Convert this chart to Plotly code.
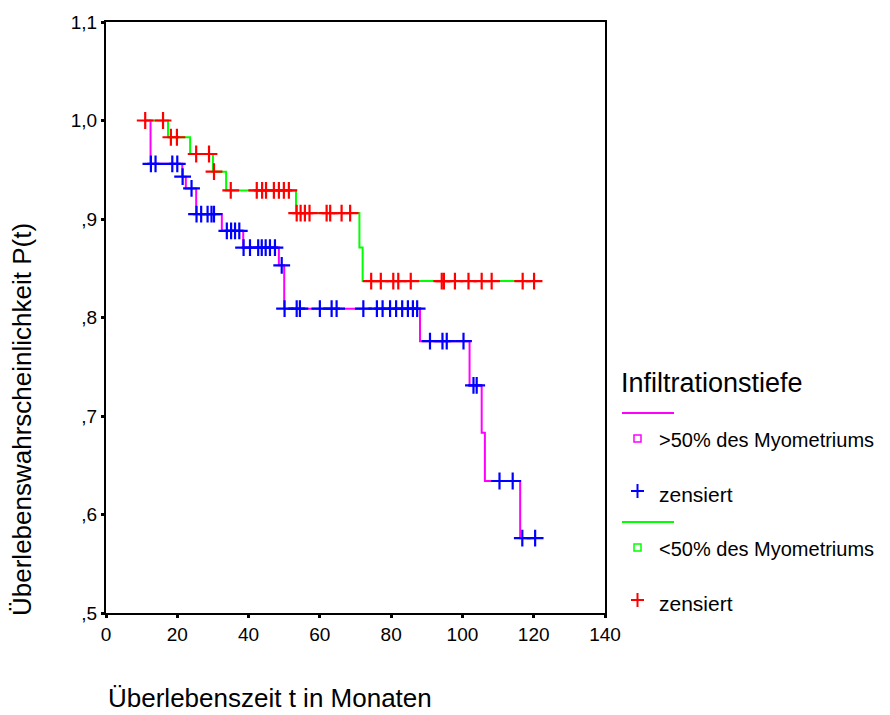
import plotly.graph_objects as go

# ---------------- data ----------------
# <50% des Myometriums (green line, red censor marks)
lt_start = 11.0
lt_event_t = [17.4, 23.6, 30.0, 33.7, 53.3, 71.1, 72.0]
lt_event_s = [0.983, 0.966, 0.948, 0.929, 0.906, 0.871, 0.837]
lt_censor_t = [11.0, 16.0, 18.2, 19.9, 25.3, 28.9, 30.3,
               35.0, 42.3, 43.8, 44.9, 47.1, 48.5, 49.9, 51.3,
               53.5, 54.6, 55.8, 57.1, 61.9, 62.9, 66.1, 68.5,
               74.4, 77.1, 80.6, 82.0, 85.5, 94.2, 94.8, 97.9,
               101.7, 105.4, 108.2, 116.9, 120.1]

# >50% des Myometriums (magenta line, blue censor marks)
gt_start = 11.0
gt_event_t = [12.5, 21.4, 22.4, 25.3, 32.5, 38.5, 48.5, 50.0,
              88.1, 102.0, 105.4, 106.3, 116.2]
gt_event_s = [0.956, 0.943, 0.931, 0.905, 0.888, 0.871, 0.853, 0.809,
              0.776, 0.731, 0.683, 0.634, 0.576]
gt_censor_t = [12.6, 13.9, 18.6, 20.0, 21.5, 24.0,
               25.4, 26.7, 28.5, 29.6, 30.3,
               33.9, 35.1, 36.2, 37.4,
               38.6, 40.4, 42.7, 43.7, 44.8, 46.0, 47.4,
               49.3,
               50.1, 53.5, 54.4, 60.0, 63.3, 64.7, 72.2, 76.0, 77.6,
               79.7, 81.4, 83.1, 84.7, 86.1, 87.3,
               90.9, 94.4, 95.6, 100.3,
               103.1, 104.0,
               110.4, 114.1,
               116.8, 120.4]

x_ticks = [0, 20, 40, 60, 80, 100, 120, 140]
y_ticks = [0.5, 0.6, 0.7, 0.8, 0.9, 1.0, 1.1]
y_tick_text = [",5", ",6", ",7", ",8", ",9", "1,0", "1,1"]

legend_title = "Infiltrationstiefe"
group_labels = [">50% des Myometriums", "<50% des Myometriums"]
censor_label = "zensiert"
x_title = "Überlebenszeit t in Monaten"
y_title = "Überlebenswahrscheinlichkeit P(t)"

MAGENTA, BLUE, GREEN, RED = "#FF00FF", "#0000FF", "#00FF00", "#FF0000"
FONT = "Liberation Sans, Arial, sans-serif"


def surv_at(t, ev_t, ev_s):
    s = 1.0
    for et, es in zip(ev_t, ev_s):
        if et <= t:
            s = es
    return s


def step_xy(start, ev_t, ev_s, end):
    xs = [start] + list(ev_t) + [end]
    ys = [1.0] + list(ev_s) + [ev_s[-1]]
    return xs, ys


fig = go.Figure()

gx, gy = step_xy(gt_start, gt_event_t, gt_event_s, max(gt_censor_t))
fig.add_trace(go.Scatter(x=gx, y=gy, mode="lines", line=dict(color=MAGENTA, width=2, shape="hv"),
                         hoverinfo="skip", showlegend=False))
fig.add_trace(go.Scatter(x=gt_censor_t, y=[surv_at(t, gt_event_t, gt_event_s) for t in gt_censor_t],
                         mode="markers",
                         marker=dict(symbol="cross-thin", size=12, line=dict(color=BLUE, width=2.2)),
                         showlegend=False))

lx, ly = step_xy(lt_start, lt_event_t, lt_event_s, max(lt_censor_t))
fig.add_trace(go.Scatter(x=lx, y=ly, mode="lines", line=dict(color=GREEN, width=2, shape="hv"),
                         hoverinfo="skip", showlegend=False))
fig.add_trace(go.Scatter(x=lt_censor_t, y=[surv_at(t, lt_event_t, lt_event_s) for t in lt_censor_t],
                         mode="markers",
                         marker=dict(symbol="cross-thin", size=12, line=dict(color=RED, width=2.2)),
                         showlegend=False))

# ---------------- layout ----------------
W, H = 890, 715
L, R, T, B = 106, 605, 22, 613


def px(xp):
    return (xp - L) / (R - L)


def py(yp):
    return (B - yp) / (B - T)


shapes = []
annotations = []

# custom legend
annotations.append(dict(text=legend_title, x=px(619), y=py(383), xref="paper", yref="paper",
                        xanchor="left", yanchor="middle", showarrow=False,
                        font=dict(family=FONT, size=27, color="black")))
legend_rows = [
    (413, 439, 494, MAGENTA, BLUE, group_labels[0]),
    (522, 548, 603, GREEN, RED, group_labels[1]),
]
for line_y, sq_y, cz_y, lc, cc, lab in legend_rows:
    shapes.append(dict(type="line", xref="paper", yref="paper", x0=px(622), x1=px(674),
                       y0=py(line_y), y1=py(line_y), line=dict(color=lc, width=2)))
    shapes.append(dict(type="rect", xref="paper", yref="paper", x0=px(634), x1=px(641),
                       y0=py(sq_y - 4), y1=py(sq_y + 3), line=dict(color=lc, width=1.5)))
    annotations.append(dict(text=lab, x=px(657), y=py(sq_y + 1), xref="paper", yref="paper",
                            xanchor="left", yanchor="middle", showarrow=False,
                            font=dict(family=FONT, size=20, color="black")))
    shapes.append(dict(type="line", xref="paper", yref="paper", x0=px(631), x1=px(644),
                       y0=py(cz_y - 3), y1=py(cz_y - 3), line=dict(color=cc, width=2)))
    shapes.append(dict(type="line", xref="paper", yref="paper", x0=px(637.5), x1=px(637.5),
                       y0=py(cz_y - 10), y1=py(cz_y + 4), line=dict(color=cc, width=2)))
    annotations.append(dict(text=censor_label, x=px(657), y=py(cz_y), xref="paper", yref="paper",
                            xanchor="left", yanchor="middle", showarrow=False,
                            font=dict(family=FONT, size=21, color="black")))

# axis titles
annotations.append(dict(text=x_title, x=px(106), y=py(698), xref="paper", yref="paper",
                        xanchor="left", yanchor="middle", showarrow=False,
                        font=dict(family=FONT, size=26, color="black")))
annotations.append(dict(text=y_title, x=px(22), y=py(420), xref="paper", yref="paper",
                        xanchor="center", yanchor="middle", showarrow=False, textangle=-90,
                        font=dict(family=FONT, size=26, color="black")))

fig.update_layout(
    width=W, height=H,
    margin=dict(l=L, r=W - R, t=T, b=H - B, pad=0),
    paper_bgcolor="white", plot_bgcolor="white",
    font=dict(family=FONT, size=19, color="black"),
    shapes=shapes, annotations=annotations,
    xaxis=dict(range=[0, 140], tickvals=x_ticks, ticktext=[str(v) for v in x_ticks],
               showgrid=False, zeroline=False, showline=True, linecolor="black", linewidth=2,
               mirror=True, ticks="outside", ticklen=3, tickwidth=3, tickcolor="black",
               tickfont=dict(family=FONT, size=19)),
    yaxis=dict(range=[0.5, 1.1], tickvals=y_ticks, ticktext=y_tick_text,
               showgrid=False, zeroline=False, showline=True, linecolor="black", linewidth=2,
               mirror=True, ticks="outside", ticklen=3, tickwidth=3, tickcolor="black",
               tickfont=dict(family=FONT, size=19)),
)

fig.write_html("out.html")
